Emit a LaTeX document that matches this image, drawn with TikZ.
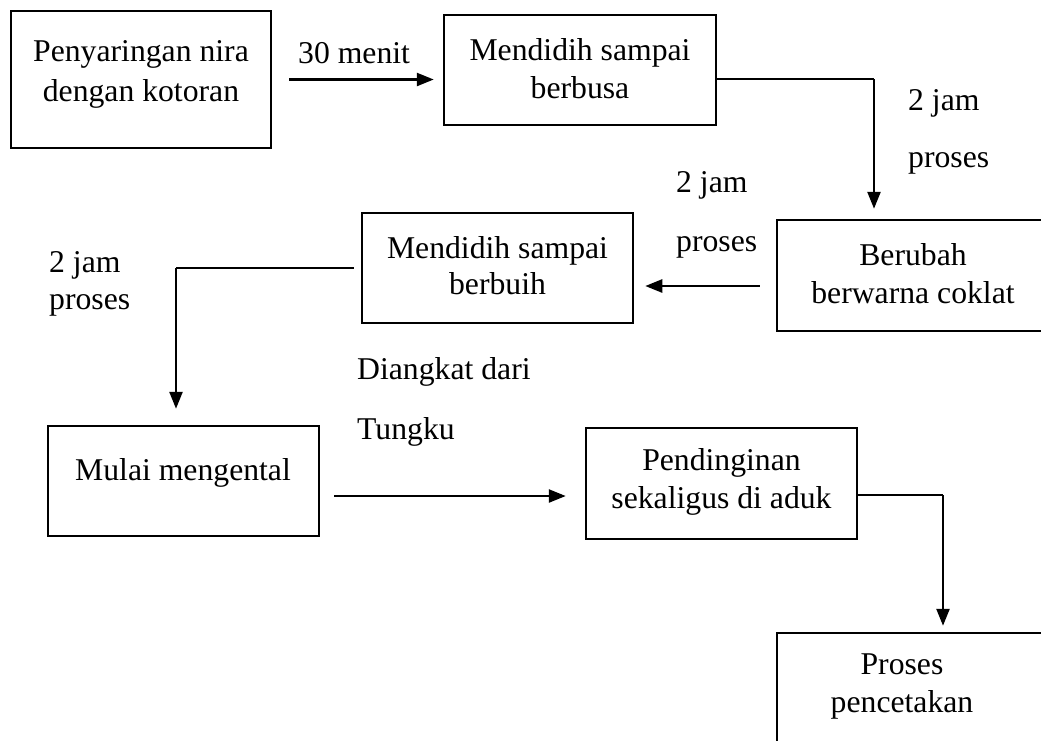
\documentclass[tikz,border=0pt]{standalone}
\usepackage{fontspec}
\setmainfont{Liberation Serif}
\usetikzlibrary{arrows.meta}
\begin{document}
\begin{tikzpicture}[x=1pt,y=-1pt,
  box/.style={draw, line width=2.5pt, inner sep=0pt},
  txt/.style={align=center, font=\fontsize{31.7}{38}\selectfont, inner sep=0pt},
  lbl/.style={anchor=west, font=\fontsize{31.7}{38}\selectfont, inner sep=0pt},
  thinline/.style={line width=1.3pt},
  arr/.style={line width=2.5pt, -{Triangle[length=17pt,width=13pt]}}]
\useasboundingbox (0,0) rectangle (1041,740);
\clip (0,0) rectangle (1041,740);
\fill[white] (0,0) rectangle (1041,740);
% boxes
\node[box, minimum width=260pt, minimum height=137pt] (b1) at (141,79.5) {};
\node[box, minimum width=272pt, minimum height=110pt] (b2) at (580,70) {};
\node[box, minimum width=273pt, minimum height=111pt] (b3) at (913.5,275.5) {};
\node[box, minimum width=271pt, minimum height=110pt] (b4) at (497.5,268) {};
\node[box, minimum width=271pt, minimum height=110pt] (b5) at (183.5,481) {};
\node[box, minimum width=271pt, minimum height=111pt] (b6) at (721.5,483.5) {};
\node[box, minimum width=273pt, minimum height=127pt] (b7) at (913.5,696.5) {};
% box texts
\node[txt, font=\fontsize{31.7}{40}\selectfont] (t1) at (141,74) {Penyaringan nira\\dengan kotoran};
\node[txt] (t2) at (580,69) {Mendidih sampai\\berbusa};
\node[txt] (t3) at (913,274) {Berubah\\berwarna coklat};
\node[txt, font=\fontsize{31.7}{36}\selectfont] (t4) at (497.5,266) {Mendidih sampai\\berbuih};
\node[txt] (t5) at (183,472.5) {Mulai mengental};
\node[txt] (t6) at (721.5,481.5) {Pendinginan\\sekaligus di aduk};
\node[txt] (t7) at (902,686.5) {Proses\\pencetakan};
% labels
\node[lbl] (l1) at (298,53) {30 menit};
\node[lbl] (l2) at (908,103) {2 jam};
\node[lbl] (l3) at (908,163) {proses};
\node[lbl] (l4) at (676,185) {2 jam};
\node[lbl] (l5) at (676,247) {proses};
\node[lbl] (l6) at (49,265) {2 jam};
\node[lbl] (l7) at (49,305) {proses};
\node[lbl] (l8) at (357,372) {Diangkat dari};
\node[lbl] (l9) at (357,432) {Tungku};
% connectors
\draw[arr, shorten <=17pt, shorten >=9pt] (b1.east) -- (b1.east -| b2.west);
\coordinate (c2) at (874,79);
\draw[thinline] (b2.east |- c2) -- (c2);
\draw[arr] (c2) -- ([yshift=10pt]c2 |- b3.north);
\draw[arr, shorten <=16pt, shorten >=11pt] ([yshift=-10.5pt]b3.west) -- ([yshift=-10.5pt]b3.west -| b4.east);
\coordinate (c4) at (176,268);
\draw[thinline, shorten <=7pt] (b4.west) -- (c4);
\draw[arr] (c4) -- ([yshift=16pt]c4 |- b5.north);
\draw[arr, shorten <=14pt, shorten >=19pt] ([yshift=-15pt]b5.east) -- ([yshift=-15pt]b5.east -| b6.west);
\coordinate (c6) at (943,495);
\draw[thinline] (b6.east |- c6) -- (c6);
\draw[arr] (c6) -- ([yshift=6pt]c6 |- b7.north);
\end{tikzpicture}
\end{document}
